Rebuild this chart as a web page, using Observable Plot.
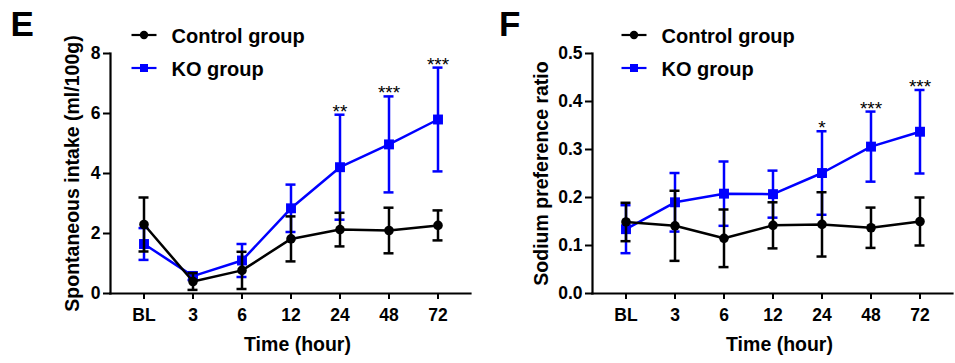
<!DOCTYPE html>
<html>
<head>
<meta charset="utf-8">
<script src="https://cdn.jsdelivr.net/npm/d3@7"></script>
<script src="https://cdn.jsdelivr.net/npm/@observablehq/plot@0.6"></script>
<style>
  html, body { margin: 0; padding: 0; background: #fff; }
  #wrap { position: relative; width: 955px; height: 363px; font-family: Arial, "Liberation Sans", sans-serif; }
  #left { position: absolute; left: 0; top: 0; }
  #right { position: absolute; left: 480px; top: 0; }
  #overlay { position: absolute; left: 0; top: 0; pointer-events: none; }
</style>
</head>
<body>
<div id="wrap">
  <div id="left"></div>
  <div id="right"></div>
  <svg id="overlay" width="955" height="363"></svg>
</div>
<script>
// ---- data ----
const timepoints = ["BL", "3", "6", "12", "24", "48", "72"];
const groups = ["Control group", "KO group"];
const panelLetters = ["E", "F"];

const intakeControlMean = [2.30, 0.40, 0.77, 1.82, 2.13, 2.10, 2.27];
const intakeControlErr  = [0.90, 0.28, 0.62, 0.75, 0.56, 0.76, 0.50];
const intakeKOMean      = [1.65, 0.58, 1.10, 2.84, 4.21, 4.97, 5.80];
const intakeKOErr       = [0.53, 0.13, 0.55, 0.79, 1.75, 1.60, 1.73];
const intakeStars       = ["", "", "", "", "**", "***", "***"];
const intakeTicks       = [0, 2, 4, 6, 8];

const ratioControlMean = [0.149, 0.141, 0.115, 0.142, 0.144, 0.137, 0.150];
const ratioControlErr  = [0.040, 0.073, 0.060, 0.048, 0.067, 0.042, 0.050];
const ratioKOMean      = [0.134, 0.190, 0.208, 0.207, 0.251, 0.306, 0.337];
const ratioKOErr       = [0.050, 0.061, 0.067, 0.049, 0.087, 0.073, 0.087];
const ratioStars       = ["", "", "", "", "*", "***", "***"];
const ratioTicks       = [0, 0.1, 0.2, 0.3, 0.4, 0.5];

const colors = {"Control group": "#000000", "KO group": "#0000ff"};

function rows(group, mean, err) {
  return timepoints.map((t, i) => ({t, group, y: mean[i], lo: mean[i] - err[i], hi: mean[i] + err[i]}));
}

function panel(o) {
  const ctrl = rows(groups[0], o.ctrlMean, o.ctrlErr);
  const ko = rows(groups[1], o.koMean, o.koErr);
  const starRows = timepoints.map((t, i) => ({t, s: o.stars[i], y: o.koMean[i] + o.koErr[i]})).filter(d => d.s);
  const capInset = 19.5;
  const seriesMarks = (data, color, symbol, r) => [
    Plot.ruleX(data, {x: "t", y1: "lo", y2: "hi", stroke: color, strokeWidth: 2.5}),
    Plot.tickY(data, {x: "t", y: "hi", stroke: color, strokeWidth: 2.5, insetLeft: capInset, insetRight: capInset}),
    Plot.tickY(data, {x: "t", y: "lo", stroke: color, strokeWidth: 2.5, insetLeft: capInset, insetRight: capInset}),
    Plot.line(data, {x: "t", y: "y", stroke: color, strokeWidth: 2.5}),
    Plot.dot(data, {x: "t", y: "y", fill: color, stroke: "none", symbol, r})
  ];
  return Plot.plot({
    width: o.width, height: 363,
    marginLeft: o.marginLeft, marginRight: o.marginRight, marginTop: 53, marginBottom: 70,
    style: {fontFamily: "Arial, 'Liberation Sans', sans-serif", fontWeight: "bold", fontSize: "17.5px", color: "#000", background: "#fff", overflow: "visible"},
    x: {type: "band", domain: timepoints, paddingInner: 0, paddingOuter: o.paddingOuter},
    y: {domain: o.yDomain},
    marks: [
      Plot.axisX({tickSize: 6, tickPadding: 9, strokeWidth: 2, fontSize: 17.5, label: null}),
      Plot.axisY({ticks: o.yTicks, tickFormat: o.tickFormat, tickSize: 7, tickPadding: 3, strokeWidth: 2, fontSize: 17.5, label: null}),
      Plot.frame({anchor: "left", stroke: "#000", strokeWidth: 2.2}),
      Plot.frame({anchor: "bottom", stroke: "#000", strokeWidth: 2.2}),
      Plot.text(["Time (hour)"], {frameAnchor: "bottom", textAnchor: "middle", dx: 7, dy: 57, fontSize: 19.5, fontWeight: "bold"}),
      Plot.text([o.yLabel], {frameAnchor: "left", textAnchor: "middle", rotate: -90, dx: o.yLabelDx, fontSize: 19.5, fontWeight: "bold"}),
      ...seriesMarks(ko, colors[groups[1]], "square", 5.6),
      ...seriesMarks(ctrl, colors[groups[0]], "circle", 4.8),
      Plot.text(starRows, {x: "t", y: "y", text: "s", fontWeight: "normal", fontSize: 19, dy: -3})
    ]
  });
}

document.getElementById("left").append(panel({
  ctrlMean: intakeControlMean, ctrlErr: intakeControlErr,
  koMean: intakeKOMean, koErr: intakeKOErr, stars: intakeStars,
  yDomain: [0, 8], yTicks: intakeTicks, tickFormat: d => String(d),
  yLabel: "Spontaneous intake (ml/100g)", yLabelDx: -37.5,
  width: 478, marginLeft: 110, marginRight: 8, paddingOuter: 0.17
}));
document.getElementById("right").append(panel({
  ctrlMean: ratioControlMean, ctrlErr: ratioControlErr,
  koMean: ratioKOMean, koErr: ratioKOErr, stars: ratioStars,
  yDomain: [0, 0.5], yTicks: ratioTicks, tickFormat: d3.format(".1f"),
  yLabel: "Sodium preference ratio", yLabelDx: -51,
  width: 475, marginLeft: 112, marginRight: 3, paddingOuter: 0.16
}));

// ---- overlay: panel letters and legends ----
const ov = d3.select("#overlay");
const letterX = [10.5, 499];
panelLetters.forEach((L, i) => {
  ov.append("text").attr("x", letterX[i]).attr("y", 36)
    .attr("font-family", "Arial, 'Liberation Sans', sans-serif").attr("font-weight", "bold")
    .attr("font-size", 35).attr("fill", "#000").text(L);
});
const legendX = [131.5, 621.5];
const legendRowY = [35, 68];
legendX.forEach(x0 => {
  groups.forEach((g, j) => {
    const y = legendRowY[j];
    const c = colors[g];
    ov.append("line").attr("x1", x0).attr("x2", x0 + 25).attr("y1", y).attr("y2", y)
      .attr("stroke", c).attr("stroke-width", 2.2);
    if (j === 0) ov.append("circle").attr("cx", x0 + 12.5).attr("cy", y).attr("r", 4.2).attr("fill", c);
    else ov.append("rect").attr("x", x0 + 8.5).attr("y", y - 4).attr("width", 8).attr("height", 8).attr("fill", c);
    ov.append("text").attr("x", x0 + 40).attr("y", y + 7.5)
      .attr("font-family", "Arial, 'Liberation Sans', sans-serif").attr("font-weight", "bold")
      .attr("font-size", 20).attr("fill", "#000").text(g);
  });
});
</script>
</body>
</html>
